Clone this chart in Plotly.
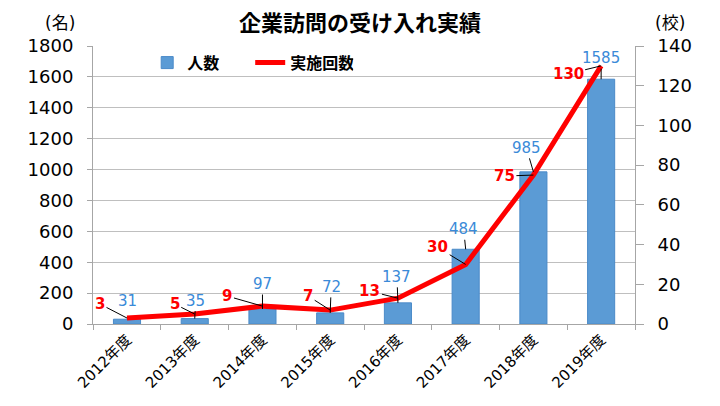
import plotly.graph_objects as go

years = ["2012年度", "2013年度", "2014年度", "2015年度", "2016年度", "2017年度", "2018年度", "2019年度"]
people = [31, 35, 97, 72, 137, 484, 985, 1585]
visits = [3, 5, 9, 7, 13, 30, 75, 130]

# label offsets (pixels) relative to the data point, and whether a leader line is drawn
people_off = [(0, -18), (1, -18), (0, -25), (1, -26), (-1, -26), (-2, -20), (-7, -24), (0, -21)]
people_lead = [False, True, True, True, True, True, True, True]
visits_off = [(-27, -14), (-20, -10), (-35, -10), (-22, -14), (-28, -7), (-28, -17), (-29, 1), (-33, 8)]

FONT = "DejaVu Sans, Noto Sans CJK JP, sans-serif"
BLUE = "#5B9BD5"
LBLUE = "#3A8AD8"

fig = go.Figure()
fig.add_trace(go.Bar(x=years, y=people, name="人数", width=0.4,
                     marker=dict(color=BLUE, line=dict(color="#4A8AC8", width=1)),
                     yaxis="y"))
fig.add_trace(go.Scatter(x=years, y=visits, name="実施回数", mode="lines",
                         line=dict(color="#FF0000", width=5), yaxis="y2"))

ann = []
for i, (yr, v) in enumerate(zip(years, people)):
    dx, dy = people_off[i]
    ann.append(dict(x=yr, y=v, xref="x", yref="y", text=str(v),
                    showarrow=True, ax=dx, ay=dy, arrowhead=0, arrowwidth=1,
                    arrowcolor="#000000" if people_lead[i] else "rgba(0,0,0,0)",
                    font=dict(family=FONT, size=15, color=LBLUE)))
for i, (yr, v) in enumerate(zip(years, visits)):
    dx, dy = visits_off[i]
    ann.append(dict(x=yr, y=v, xref="x", yref="y2", text="<b>%d</b>" % v,
                    showarrow=True, ax=dx, ay=dy, arrowhead=0, arrowwidth=1,
                    arrowcolor="#000000",
                    font=dict(family=FONT, size=15, color="#FF0000")))
ann.append(dict(x=-0.061, y=1.083, xref="paper", yref="paper", text="(名)",
                showarrow=False, xanchor="center", yanchor="middle",
                font=dict(family=FONT, size=17, color="#000000")))
ann.append(dict(x=1.0646, y=1.083, xref="paper", yref="paper", text="(校)",
                showarrow=False, xanchor="center", yanchor="middle",
                font=dict(family=FONT, size=17, color="#000000")))

fig.update_layout(
    width=720, height=406,
    margin=dict(l=93, r=85, t=46, b=82),
    paper_bgcolor="white", plot_bgcolor="white",
    title=dict(text="<b>企業訪問の受け入れ実績</b>", x=0.5, xanchor="center",
               y=1 - 23 / 406, yanchor="middle",
               font=dict(family=FONT, size=22, color="#000000")),
    font=dict(family=FONT, color="#000000"),
    showlegend=True,
    legend=dict(orientation="h", x=0.1, y=0.94, xanchor="left", yanchor="middle",
                bgcolor="rgba(0,0,0,0)", itemwidth=30,
                entrywidth=58, entrywidthmode="pixels",
                font=dict(family=FONT, size=16, color="#000000", weight="bold")),
    xaxis=dict(type="category", tickangle=-45, tickson="boundaries",
               ticks="outside", ticklen=5, tickcolor="#A6A6A6",
               showline=True, linecolor="#A6A6A6", showgrid=False,
               tickfont=dict(family=FONT, size=15, color="#000000")),
    yaxis=dict(range=[0, 1800], dtick=200, showgrid=True, gridcolor="#BFBFBF",
               showline=True, linecolor="#A6A6A6", ticks="outside", ticklen=5,
               tickcolor="#A6A6A6", ticklabelstandoff=10, zeroline=False,
               tickfont=dict(family=FONT, size=18, color="#000000")),
    yaxis2=dict(range=[0, 140], dtick=20, overlaying="y", side="right",
                showgrid=False, showline=True, linecolor="#A6A6A6",
                ticks="outside", ticklen=8, tickcolor="#A6A6A6",
                ticklabelstandoff=10, zeroline=False,
                tickfont=dict(family=FONT, size=18, color="#000000")),
    bargap=0.6,
)
fig.update_layout(annotations=ann)
fig.write_html("out.html")
